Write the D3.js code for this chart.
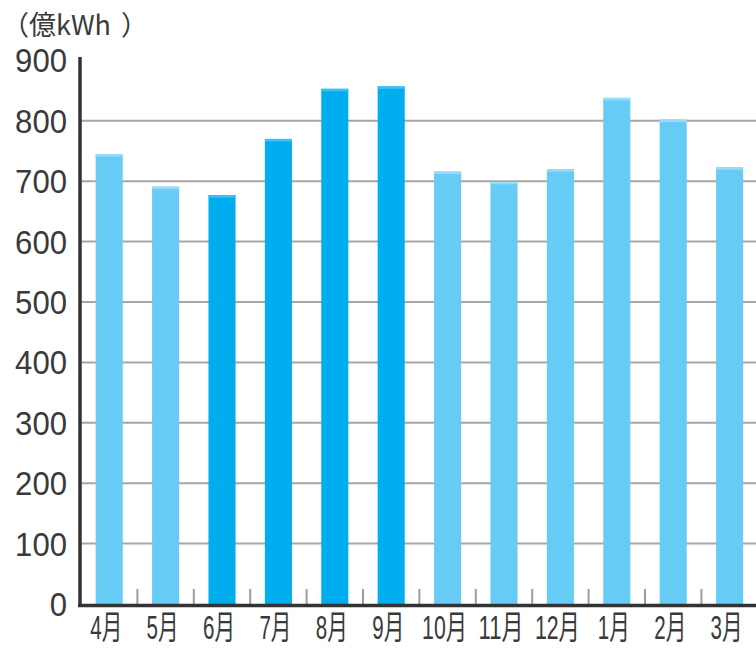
<!DOCTYPE html>
<html>
<head>
<meta charset="utf-8">
<script src="https://cdn.jsdelivr.net/npm/d3@7"></script>
<style>
  html, body { margin: 0; padding: 0; background: #fff; }
  svg { display: block; }
</style>
</head>
<body>
<svg id="chart" width="756" height="648"></svg>
<script>
// Monthly electricity demand (億kWh), April to March
const months = ["4月", "5月", "6月", "7月", "8月", "9月", "10月", "11月", "12月", "1月", "2月", "3月"];
const demand = [745, 691, 677, 770, 853, 857, 716, 699, 720, 838, 802, 723];
// Summer peak months drawn in the deeper blue
const peakMonths = ["6月", "7月", "8月", "9月"];
const yTicks = [0, 100, 200, 300, 400, 500, 600, 700, 800, 900];
const unitLabel = "（億kWh";

const svg = d3.select("#chart");
const W = 756;
const plotLeft = 80, baseline = 604, plotTop = 60.4;

const x = d3.scaleBand()
  .domain(months)
  .range([plotLeft + 1, plotLeft + 1 + 12 * 56.4])
  .paddingInner(0.52)
  .paddingOuter(0.26);

const y = d3.scaleLinear().domain([0, 900]).range([baseline, plotTop]);

// horizontal grid lines
svg.append("g")
  .selectAll("line")
  .data(yTicks.filter(v => v > 0 && v < 900))
  .join("line")
  .attr("x1", plotLeft).attr("x2", W)
  .attr("y1", d => y(d)).attr("y2", d => y(d))
  .attr("stroke", "#a9a5a5")
  .attr("stroke-width", 2);

// small separators between months
svg.append("g")
  .selectAll("line")
  .data(months.slice(1))
  .join("line")
  .attr("x1", d => x(d) - x.step() * x.paddingInner() / 2)
  .attr("x2", d => x(d) - x.step() * x.paddingInner() / 2)
  .attr("y1", baseline - 15).attr("y2", baseline)
  .attr("stroke", "#a09a9a")
  .attr("stroke-width", 2);

// bars
const bars = svg.append("g")
  .selectAll("g")
  .data(months.map((m, i) => ({ m, v: demand[i], peak: peakMonths.includes(m) })))
  .join("g");

bars.append("rect")
  .attr("x", d => x(d.m))
  .attr("width", x.bandwidth())
  .attr("y", d => y(d.v))
  .attr("height", d => baseline - y(d.v))
  .attr("fill", d => d.peak ? "#00adee" : "#67ccf5");

// lighter cap on each bar
bars.append("rect")
  .attr("x", d => x(d.m))
  .attr("width", x.bandwidth())
  .attr("y", d => y(d.v))
  .attr("height", 2.5)
  .attr("fill", d => d.peak ? "#40c0f2" : "#98dbf8");

// axis lines
svg.append("line")
  .attr("x1", plotLeft).attr("x2", plotLeft)
  .attr("y1", 57).attr("y2", baseline + 3)
  .attr("stroke", "#333").attr("stroke-width", 3.5);
svg.append("line")
  .attr("x1", plotLeft - 2).attr("x2", W)
  .attr("y1", baseline + 1.5).attr("y2", baseline + 1.5)
  .attr("stroke", "#333").attr("stroke-width", 3.5);

// y tick labels
svg.append("g")
  .selectAll("text")
  .data(yTicks)
  .join("text")
  .attr("x", 67)
  .attr("y", d => y(d) + 12)
  .attr("text-anchor", "end")
  .attr("font-family", "'Liberation Sans', Arial, sans-serif")
  .attr("font-size", 33)
  .attr("fill", "#3a3a3a")
  .attr("textLength", d => String(d).length * 17.3)
  .attr("lengthAdjust", "spacingAndGlyphs")
  .text(d => d);

// month labels, horizontally condensed to fit under each bar
svg.append("g")
  .selectAll("text")
  .data(months)
  .join("text")
  .attr("text-anchor", "middle")
  .attr("font-family", "'Liberation Sans', 'Noto Sans CJK JP', sans-serif")
  .attr("font-size", 33)
  .attr("fill", "#3a3a3a")
  .text(d => d)
  .each(function(d) {
    const natural = this.getComputedTextLength();
    const target = d.length > 2 ? 45 : 32;
    const cx = x(d) + x.bandwidth() / 2 - 3;
    d3.select(this).attr("transform", `translate(${cx},639) scale(${target / natural},1)`);
  });

// unit label
const unit = svg.append("text")
  .attr("x", 2)
  .attr("y", 35)
  .attr("font-family", "'Noto Sans CJK JP', sans-serif")
  .attr("font-size", 27)
  .attr("fill", "#3a3a3a");
unit.append("tspan").text(unitLabel);
unit.append("tspan").attr("x", 121).text("）");
</script>
</body>
</html>
